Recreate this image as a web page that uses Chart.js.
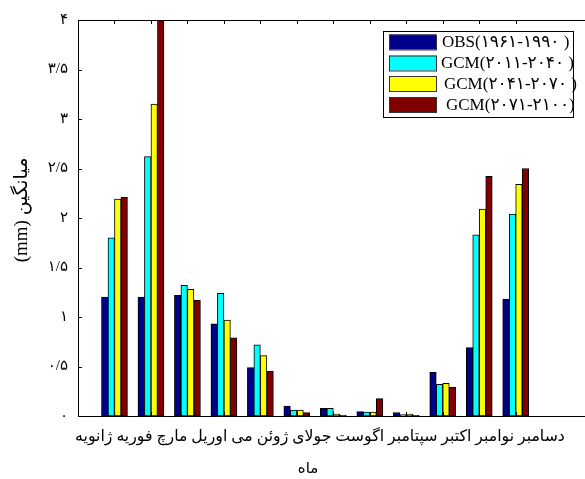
<!DOCTYPE html>
<html>
<head>
<meta charset="utf-8">
<script src="https://cdn.jsdelivr.net/npm/chart.js@4/dist/chart.umd.min.js"></script>
<style>
  html, body { margin: 0; padding: 0; background: #fff; }
  #c { display: block; }
</style>
</head>
<body>
<canvas id="c" width="585" height="479"></canvas>
<script>
// ---- data ----
const months = ['ژانویه','فوریه','مارچ','اوریل','می','ژوئن','جولای','اگوست','سپتامبر','اکتبر','نوامبر','دسامبر'];
const monthPositions = [1,2,3,4,5,6,7,8,9,10,11,12];
const obs   = [1.20, 1.20, 1.22, 0.93, 0.49, 0.10, 0.078, 0.045, 0.035, 0.44, 0.69, 1.18];
const gcm1  = [1.80, 2.62, 1.32, 1.24, 0.72, 0.06, 0.078, 0.04, 0.015, 0.32, 1.83, 2.04];
const gcm2  = [2.19, 3.15, 1.28, 0.97, 0.61, 0.06, 0.02, 0.04, 0.02, 0.33, 2.09, 2.34];
const gcm3  = [2.21, 4.00, 1.17, 0.79, 0.45, 0.034, 0.01, 0.175, 0.007, 0.29, 2.42, 2.50];
const seriesNames = ['OBS(۱۹۶۱-۱۹۹۰ )', 'GCM(۲۰۱۱-۲۰۴۰ )', 'GCM(۲۰۴۱-۲۰۷۰ )', 'GCM(۲۰۷۱-۲۱۰۰)'];
const seriesColors = ['#00008a', '#00ffff', '#ffff00', '#800000'];
const yTickLabels = ['۰','۰/۵','۱','۱/۵','۲','۲/۵','۳','۳/۵','۴'];
const yTitle = 'میانگین (mm)';
const xTitle = 'ماه';

const seriesValues = [obs, gcm1, gcm2, gcm3];
const datasets = seriesValues.map((vals, k) => ({
  label: seriesNames[k],
  data: vals.map((v, i) => ({ x: monthPositions[i], y: v })),
  backgroundColor: seriesColors[k],
  borderColor: '#000',
  borderWidth: 1,
  borderSkipped: false,
  barThickness: 6.5
}));

const serif = '"Liberation Serif", "DejaVu Sans", serif';

const framePlugin = {
  id: 'frame',
  afterDatasetsDraw(chart) {
    const { ctx, chartArea: a, scales } = chart;
    const xs = scales.x, ys = scales.y;
    ctx.save();
    ctx.strokeStyle = '#000';
    ctx.lineWidth = 1;
    // box
    ctx.beginPath();
    ctx.moveTo(a.left + 0.5, a.bottom + 0.5);
    ctx.lineTo(a.left + 0.5, a.top + 0.5);
    ctx.lineTo(a.right + 0.5, a.top + 0.5);
    ctx.moveTo(a.left + 0.5, a.bottom + 0.5);
    ctx.lineTo(a.right + 0.5, a.bottom + 0.5);
    ctx.stroke();
    // inward ticks
    ctx.beginPath();
    for (let i = 0; i < yTickLabels.length; i++) {
      const y = Math.round(ys.getPixelForValue(i * 0.5)) + 0.5;
      ctx.moveTo(a.left, y); ctx.lineTo(a.left + 4, y);
    }
    monthPositions.forEach(p => {
      const x = Math.round(xs.getPixelForValue(p)) + 0.5;
      ctx.moveTo(x, a.top); ctx.lineTo(x, a.top + 4);
      ctx.moveTo(x, a.bottom); ctx.lineTo(x, a.bottom - 4);
    });
    ctx.stroke();

    // month string (single RTL line)
    ctx.fillStyle = '#000';
    ctx.direction = 'rtl';
    const str = months.slice().reverse().join(' ');
    let fs = 15;
    ctx.font = fs + 'px ' + serif;
    const w = ctx.measureText(str).width;
    fs = fs * 490 / w;
    ctx.font = fs.toFixed(2) + 'px ' + serif;
    ctx.textAlign = 'center';
    ctx.textBaseline = 'middle';
    ctx.fillText(str, 320, 437);
    // x title
    ctx.font = '15px ' + serif;
    ctx.fillText(xTitle, 308, 469);
    // y title
    ctx.save();
    ctx.translate(22, 210);
    ctx.rotate(-Math.PI / 2);
    ctx.font = '19px ' + serif;
    ctx.fillText(yTitle, 0, 0);
    ctx.restore();

    // legend
    ctx.direction = 'ltr';
    const lx = 383, ly = 31, lw = 190, lh = 86;
    ctx.fillStyle = '#fff';
    ctx.fillRect(lx, ly, lw, lh);
    ctx.strokeRect(lx + 0.5, ly + 0.5, lw, lh);
    const rows = [42, 63, 83.5, 104.5];
    const txs = [442, 441, 444, 446];
    chart.data.datasets.forEach((ds, k) => {
      ctx.fillStyle = ds.backgroundColor;
      ctx.fillRect(389, rows[k] - 7.5, 47, 15);
      ctx.strokeStyle = '#333';
      ctx.strokeRect(389.5, rows[k] - 7.5 + 0.5, 47, 15);
      ctx.fillStyle = '#000';
      ctx.font = '17px ' + serif;
      ctx.textAlign = 'left';
      ctx.textBaseline = 'middle';
      ctx.fillText(ds.label, txs[k], rows[k] + 1);
    });
    ctx.restore();
  }
};

new Chart(document.getElementById('c'), {
  type: 'bar',
  data: { datasets },
  options: {
    responsive: false,
    animation: false,
    devicePixelRatio: 1,
    layout: { padding: { top: 20, right: 0, left: 0, bottom: 0 } },
    plugins: { legend: { display: false }, tooltip: { enabled: false } },
    scales: {
      x: {
        type: 'linear',
        min: 0, max: 13.9,
        offset: false,
        grid: { display: false, offset: false },
        border: { display: false },
        ticks: { display: false, stepSize: 1, includeBounds: false },
        afterFit: s => { s.height = 63; }
      },
      y: {
        min: 0, max: 4,
        grid: { display: false, drawTicks: false },
        border: { display: false },
        ticks: {
          stepSize: 0.5,
          padding: 10,
          color: '#000',
          font: { family: serif, size: 15 },
          callback: v => yTickLabels[Math.round(v * 2)]
        },
        afterFit: s => { s.width = 78; }
      }
    }
  },
  plugins: [framePlugin]
});
</script>
</body>
</html>
